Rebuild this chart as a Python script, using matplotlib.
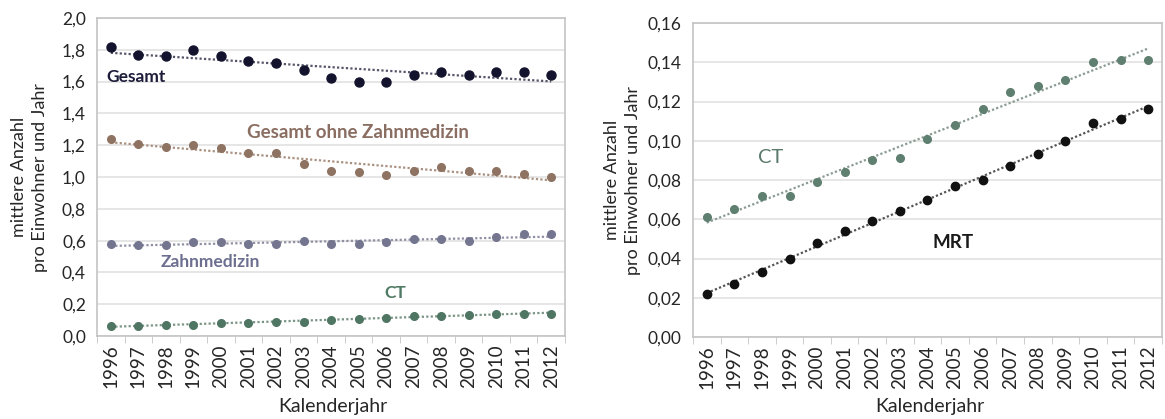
import numpy as np
import matplotlib.pyplot as plt
from matplotlib.ticker import FuncFormatter, FixedLocator

plt.rcParams['font.family'] = ['Lato', 'DejaVu Sans']

years = [str(y) for y in range(1996, 2013)]

gesamt = [1.82, 1.77, 1.76, 1.80, 1.76, 1.73, 1.72, 1.67, 1.62, 1.60, 1.60,
          1.64, 1.66, 1.64, 1.66, 1.66, 1.64]
ohne_zahn = [1.24, 1.21, 1.19, 1.20, 1.18, 1.15, 1.15, 1.08, 1.04, 1.03, 1.01,
             1.04, 1.06, 1.04, 1.04, 1.02, 1.00]
zahnmedizin = [0.58, 0.57, 0.57, 0.59, 0.59, 0.58, 0.58, 0.60, 0.58, 0.58, 0.59,
               0.61, 0.61, 0.60, 0.62, 0.64, 0.64]
ct = [0.061, 0.065, 0.072, 0.072, 0.079, 0.084, 0.090, 0.091, 0.101, 0.108,
      0.116, 0.125, 0.128, 0.131, 0.140, 0.141, 0.141]
mrt = [0.022, 0.027, 0.033, 0.040, 0.048, 0.054, 0.059, 0.064, 0.070, 0.077,
       0.080, 0.087, 0.093, 0.100, 0.109, 0.111, 0.116]

grid_col = '#e2e2e2'
frame_col = '#c4c4c4'
text_col = '#262626'


def comma_fmt(decimals):
    return FuncFormatter(lambda v, pos: f"{v:.{decimals}f}".replace('.', ','))


def series(ax, values, color, ms, trend_color):
    # points plus a dotted linear trend line through them
    x = np.arange(len(values))
    k, d = np.polyfit(x, values, 1)
    ax.plot(x, k * x + d, linestyle=(0, (1, 1)), color=trend_color, lw=1.6, zorder=2)
    ax.plot(x, values, 'o', color=color, ms=ms, mec=color, zorder=3)


def style_axes(ax, ymax, step, decimals, ylab_x):
    n = len(years)
    ax.set_xlim(-0.5, n - 0.5)
    ax.set_ylim(0, ymax)
    ax.set_yticks(np.arange(0, ymax + step / 2, step))
    ax.yaxis.set_major_formatter(comma_fmt(decimals))
    ax.set_xticks(range(n))
    ax.set_xticklabels(years, rotation=90, fontsize=13.5, color=text_col)
    ax.xaxis.set_minor_locator(FixedLocator(np.arange(-0.5, n, 1.0)))
    ax.tick_params(axis='x', which='major', length=0, pad=6)
    ax.tick_params(axis='x', which='minor', length=5, color=frame_col)
    ax.tick_params(axis='y', length=0, labelsize=12.5, labelcolor=text_col, pad=8)
    ax.grid(axis='y', color=grid_col, lw=1.2)
    ax.set_axisbelow(True)
    for s in ax.spines.values():
        s.set_color(frame_col)
        s.set_linewidth(1.2)
    ax.set_xlabel('Kalenderjahr', fontsize=14, color=text_col)
    ax.xaxis.set_label_coords(0.505, -0.195)
    ax.set_ylabel('mittlere Anzahl\npro Einwohner und Jahr', fontsize=13,
                  color=text_col, linespacing=1.4)
    ax.yaxis.set_label_coords(ylab_x, 0.5)


fig = plt.figure(figsize=(11.65, 4.19), dpi=100)

ax1 = fig.add_axes([0.0833, 0.198, 0.4017, 0.759])
series(ax1, gesamt, '#13132e', 6.5, '#55556a')
series(ax1, ohne_zahn, '#8e7362', 5.5, '#a99080')
series(ax1, zahnmedizin, '#74758f', 5.5, '#8e8fa3')
series(ax1, ct, '#4f7563', 5.5, '#7a9486')
style_axes(ax1, 2.0, 0.2, 1, -0.105)

ax1.text(-0.15, 1.63, 'Gesamt', color='#1c1c3a', fontsize=12.5,
         fontweight='bold', va='center')
ax1.text(4.95, 1.277, 'Gesamt ohne Zahnmedizin', color='#8a6e62', fontsize=13.5,
         fontweight='bold', va='center')
ax1.text(1.8, 0.465, 'Zahnmedizin', color='#6c6f90', fontsize=12.5,
         fontweight='bold', va='center')
ax1.text(9.95, 0.27, 'CT', color='#4f7a63', fontsize=12.5,
         fontweight='bold', va='center')

ax2 = fig.add_axes([0.5948, 0.1957, 0.4026, 0.7494])
series(ax2, ct, '#5f7f70', 5.5, '#8a9c92')
series(ax2, mrt, '#111111', 6, '#555555')
style_axes(ax2, 0.16, 0.02, 2, -0.111)

ax2.text(1.85, 0.0917, 'CT', color='#5a7a6b', fontsize=14.5, va='center')
ax2.text(8.2, 0.0484, 'MRT', color='#1a1a1a', fontsize=13.5,
         fontweight='bold', va='center')

fig.savefig('out.png', dpi=100)
